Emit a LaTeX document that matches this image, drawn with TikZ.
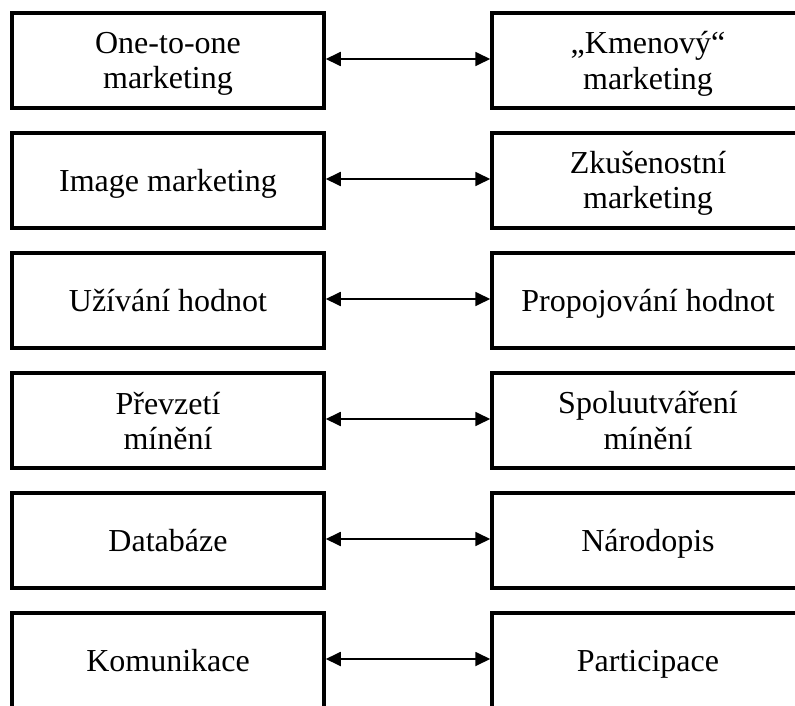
\documentclass[tikz,border=0pt]{standalone}
\usepackage{fontspec}
\setmainfont{Liberation Serif}
\usetikzlibrary{arrows.meta}
% line strut: every text line gets the same 35pt line box
\newcommand\lnstrut{\rule[-6.5pt]{0pt}{35pt}}
\begin{document}
\begin{tikzpicture}[x=1pt,y=-1pt,
  box/.style={draw=black,line width=3.5pt,fill=white,minimum width=312pt,minimum height=95pt,
    inner sep=0pt,align=center,font=\fontsize{32}{35}\selectfont},
  link/.style={line width=1.8pt,{Triangle[length=15pt,width=14pt]}-{Triangle[length=15pt,width=14pt]}}]
\clip (0,0) rectangle (795,706);
\useasboundingbox (0,0) rectangle (795,706);
% left column
\node[box] (l1) at (168,60.5)  {\lnstrut One-to-one\\\lnstrut marketing};
\node[box] (l2) at (168,180.5) {\lnstrut Image marketing};
\node[box] (l3) at (168,300.5) {\lnstrut Užívání hodnot};
\node[box] (l4) at (168,420.5) {\lnstrut Převzetí\\\lnstrut mínění};
\node[box] (l5) at (168,540.5) {\lnstrut Databáze};
\node[box] (l6) at (168,660.5) {\lnstrut Komunikace};
% right column
\node[box] (r1) at (648,60.5)  {\lnstrut „Kmenový“\\\lnstrut marketing};
\node[box] (r2) at (648,180.5) {\lnstrut Zkušenostní\\\lnstrut marketing};
\node[box] (r3) at (648,300.5) {\lnstrut Propojování hodnot};
\node[box] (r4) at (648,420.5) {\lnstrut Spoluutváření\\\lnstrut mínění};
\node[box] (r5) at (648,540.5) {\lnstrut Národopis};
\node[box] (r6) at (648,660.5) {\lnstrut Participace};
% two-way links
\foreach \i in {1,...,6}
  \draw[link] ([yshift=1.5pt]l\i.east) -- ([yshift=1.5pt]r\i.west);
\end{tikzpicture}
\end{document}
